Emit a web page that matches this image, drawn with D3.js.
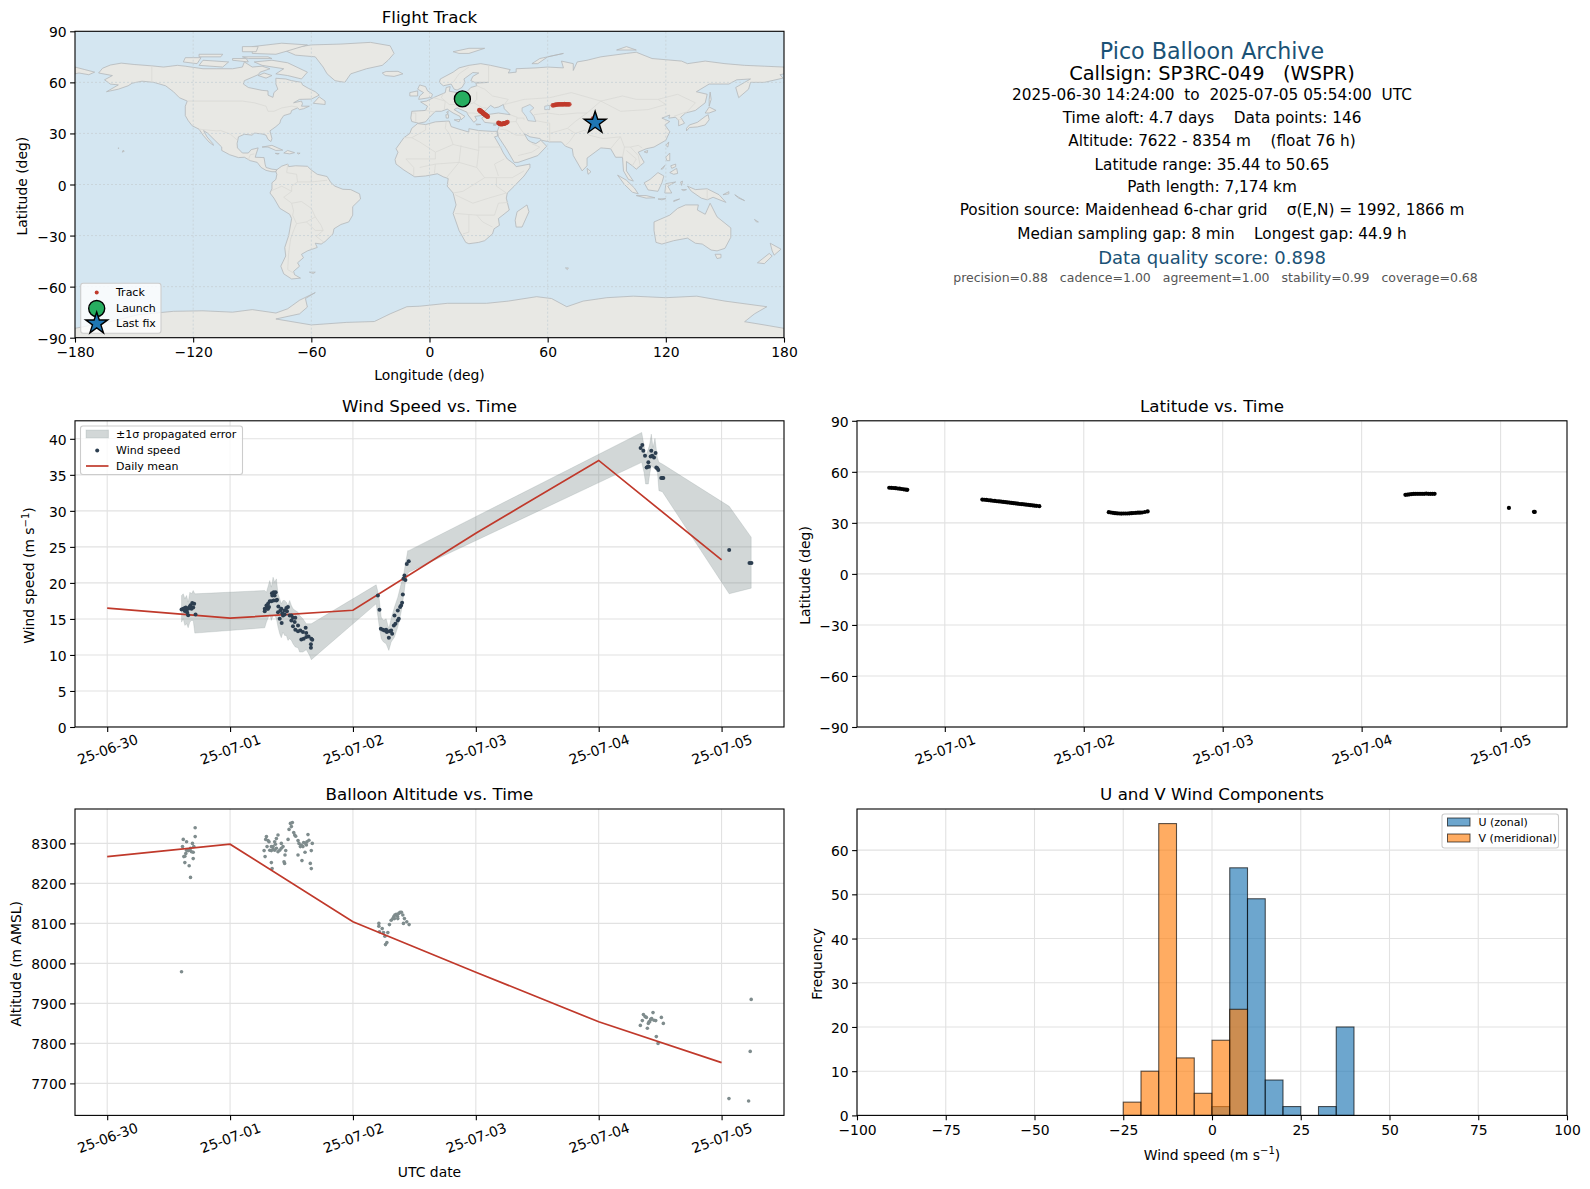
<!DOCTYPE html>
<html>
<head>
<meta charset="utf-8">
<script src="https://cdn.jsdelivr.net/npm/d3@7"></script>
<style>
html, body { margin: 0; background: #fff; }
svg { display: block; }
text { font-family: "DejaVu Sans", sans-serif; fill: #000; white-space: pre; }
</style>
</head>
<body>
<svg id="fig" width="1590" height="1189"></svg>
<script>
// ---- data ----
// days since 2025-06-30 00:00 UTC
var dayTicks = [0, 1, 2, 3, 4, 5];
var meanDay = [0, 1, 2, 3, 4, 5];
var meanSpeed = [16.5, 15.1, 16.2, 26.9, 37.0, 23.2];
var meanAlt = [8267, 8298, 8104, 7978, 7854, 7752];

var windDay = [.605,.619,.632,.646,.632,.651,.659,.667,.678,.692,.708,.700,.686,.659,.719,.640,.673,.627,
  1.282,1.282,1.296,1.309,1.301,1.317,1.323,1.341,1.355,1.371,1.336,1.355,1.377,1.393,1.390,1.409,1.417,1.404,1.420,1.431,1.444,1.458,1.471,1.463,1.485,1.499,1.512,1.531,1.499,1.512,1.531,1.553,1.553,1.572,1.593,1.615,1.620,1.580,1.599,1.620,1.639,1.661,1.669,1.658,1.658,1.382,1.363,1.344,1.309,1.444,1.425,1.526,
  2.203,2.216,2.227,2.243,2.257,2.270,2.276,2.297,2.311,2.292,2.333,2.346,2.338,2.365,2.373,2.365,2.392,2.384,2.400,2.406,2.419,2.427,2.438,2.454,2.411,2.319,
  4.355,4.341,4.363,4.377,4.428,4.463,4.423,4.436,4.450,4.404,4.390,4.409,4.401,4.469,4.477,4.485,4.509,4.526,4.518,
  5.062,5.227,5.243];
var windSpeed = [16.3,16.4,16.5,16.3,16.1,15.9,15.5,16.6,16.9,17.2,17.1,16.6,16.4,16.4,15.6,16.6,16.7,16.3,
  16.4,16.08,16.87,17.1,16.4,16.64,17.47,18.58,18.71,18.71,17.47,17.56,17.56,16.73,15.94,16.17,16.4,15.02,14.42,15.48,15.62,16.5,16.64,16.08,15.48,15.48,15.16,15.16,14.79,14.0,13.5,14.1,13.3,13.4,13.17,13.77,13.03,12.16,12.25,12.48,12.57,12.25,12.11,11.47,11.0,17.65,18.25,18.25,16.4,16.17,15.8,14.56,
  18.25,16.27,13.63,13.5,13.4,13.5,13.17,13.3,13.4,12.39,14.1,14.33,15.48,14.79,15.02,16.17,16.87,16.64,17.24,18.39,21.02,20.42,22.64,23.0,20.56,12.94,
  39.13,38.71,38.34,37.65,38.34,38.02,37.56,37.65,37.42,36.73,36.03,36.13,36.17,36.03,35.9,35.66,34.56,34.56,34.56,
  24.58,22.78,22.78];

var bandDay = [.605,.619,.632,.646,.659,.673,.686,.700,.713,1.282,1.296,1.323,1.336,1.350,1.363,1.377,1.390,1.404,1.417,1.431,1.444,1.458,1.471,1.485,1.499,1.512,1.531,1.553,1.566,1.593,1.620,1.647,1.661,2.189,2.211,2.230,2.249,2.270,2.292,2.311,2.338,2.365,2.392,2.411,2.427,2.446,2.454,4.350,4.369,4.382,4.404,4.415,4.428,4.442,4.458,4.477,4.490,4.518,5.062,5.241];
var bandHigh = [18.25,18.48,17.79,18.25,17.33,18.71,18.48,18.94,18.48,18.94,18.71,20.33,19.41,20.79,20.10,20.56,18.48,17.79,17.1,17.56,17.56,17.33,16.87,17.56,16.87,16.4,16.17,15.94,15.48,15.02,14.33,14.33,14.33,19.73,18.25,15.25,14.79,15.02,13.63,15.02,16.64,18.02,19.87,21.02,22.64,24.48,24.48,40.88,39.03,37.65,38.57,39.27,40.65,38.8,40.05,37.42,36.73,36.5,30.63,26.34];
var bandLow = [14.56,15.02,14.1,14.33,13.77,14.56,14.79,14.79,13.03,13.77,14.56,15.71,14.79,15.48,15.48,15.02,13.87,12.94,12.39,13.17,12.71,12.71,12.02,12.25,12.02,11.56,11.1,11.0,10.4,10.4,10.73,9.94,9.34,17.1,14.33,12.25,11.79,11.56,10.63,11.79,12.48,13.87,15.94,18.02,20.1,21.25,21.48,36.73,35.34,33.73,33.73,35.11,36.26,36.03,35.8,35.57,32.8,32.66,18.49,19.27];

var altDay = [.605,.716,.716,.619,.646,.694,.613,.705,.678,.646,.659,.700,.640,.632,.624,.700,.632,.667,.678,.673,.686,
  1.277,1.285,1.296,1.290,1.309,1.301,1.317,1.323,1.336,1.336,1.342,1.350,1.363,1.369,1.377,1.390,1.363,1.377,1.390,1.404,1.417,1.431,1.444,1.439,1.453,1.447,1.472,1.480,1.491,1.507,1.499,1.518,1.526,1.534,1.553,1.561,1.553,1.572,1.585,1.580,1.599,1.610,1.615,1.626,1.634,1.642,1.653,1.661,1.661,1.669,1.593,1.621,1.336,1.350,1.417,
  2.211,2.211,2.238,2.216,2.249,2.260,2.284,2.276,2.265,2.297,2.311,2.325,2.333,2.341,2.352,2.362,2.373,2.384,2.395,2.406,2.419,2.411,2.438,2.457,2.365,2.338,
  4.339,4.355,4.364,4.377,4.388,4.396,4.404,4.410,4.415,4.423,4.431,4.442,4.450,4.464,4.469,4.483,4.510,4.526,
  5.06,5.22,5.233,5.241];
var altMeters = [7979,8339,8317,8310,8304,8300,8292,8292,8288,8283,8282,8278,8275,8268,8267,8262,8252,8244,8215,8283,8279,
  8282,8267,8317,8310,8307,8292,8304,8283,8282,8252,8237,8292,8304,8298,8312,8321,8283,8288,8279,8283,8300,8292,8250,8254,8282,8271,8310,8335,8350,8352,8342,8327,8321,8318,8307,8300,8271,8292,8257,8296,8302,8278,8300,8304,8322,8308,8250,8237,8282,8300,8292,8296,8292,8285,8288,
  8100,8093,8087,8079,8077,8068,8077,8052,8047,8097,8108,8112,8117,8121,8123,8118,8125,8128,8128,8121,8112,8100,8104,8097,8112,8112,
  7845,7857,7872,7867,7865,7838,7850,7854,7854,7860,7862,7877,7858,7857,7817,7800,7865,7850,
  7662,7656,7780,7910];

var trackDay = [.60,.615,.63,.645,.66,.675,.69,.705,.72,.73,
  1.27,1.285,1.30,1.315,1.33,1.345,1.36,1.375,1.39,1.405,1.42,1.435,1.45,1.465,1.48,1.495,1.51,1.525,1.54,1.555,1.57,1.585,1.60,1.615,1.63,1.645,1.66,1.68,
  2.18,2.195,2.21,2.225,2.24,2.255,2.27,2.285,2.30,2.315,2.33,2.345,2.36,2.375,2.39,2.405,2.42,2.44,2.46,
  4.315,4.33,4.345,4.36,4.375,4.39,4.405,4.42,4.435,4.45,4.465,4.48,4.495,4.51,4.525,
  5.06,5.24,5.246];
var trackLat = [50.65,50.6,50.5,50.4,50.2,50.1,49.9,49.7,49.5,49.4,
  43.7,43.6,43.5,43.3,43.2,43.0,42.9,42.7,42.6,42.5,42.3,42.2,42.0,41.9,41.7,41.6,41.4,41.3,41.1,41.0,40.9,40.7,40.6,40.4,40.3,40.1,40.0,39.8,
  36.3,36.1,35.9,35.7,35.6,35.5,35.44,35.5,35.5,35.5,35.6,35.7,35.8,35.9,36.0,36.0,36.1,36.4,36.7,
  46.5,46.6,46.8,46.9,47,47.1,47.1,47.1,47.1,47.1,47.2,47.1,47.1,47.1,47.1,
  38.8,36.5,36.44];
var trackLon = [16.5,16.8,17.0,17.3,17.6,17.9,18.2,18.5,18.8,19.0,
  25.3,25.5,25.6,25.8,25.9,26.1,26.2,26.4,26.5,26.7,26.9,27.0,27.2,27.3,27.5,27.6,27.8,28.0,28.1,28.3,28.4,28.6,28.7,28.9,29.1,29.2,29.4,29.6,
  35.0,35.2,35.4,35.7,35.9,36.1,36.4,36.6,36.9,37.1,37.3,37.6,37.8,38.0,38.2,38.5,38.8,39.2,39.6,
  62.6,63.2,63.8,64.4,65,65.6,66.2,66.8,67.4,68,68.6,69.2,69.8,70.4,71,
  83.0,84.1,84.15];
var launchPos = [16.7, 50.3];
var lastPos = [84.1, 36.2];

var binEdges = [-25,-20,-15,-10,-5,0,5,10,15,20,25,30,35];
var uCounts = [0,0,0,0,0,2,56,49,8,2,0,2,20];
var vCounts = [3,10,66,13,5,17,24,0,0,0,0,0,0];

var summaryLines = [
  ["Pico Balloon Archive", 22.2, "#1a5276", 51.5, 0],
  ["Callsign: SP3RC-049   (WSPR)", 19.4, "#000", 73.5, 0],
  ["2025-06-30 14:24:00  to  2025-07-05 05:54:00  UTC", 15.3, "#000", 94.5, 0],
  ["Time aloft: 4.7 days    Data points: 146", 15.3, "#000", 117.6, 0],
  ["Altitude: 7622 - 8354 m    (float 76 h)", 15.3, "#000", 141, 0],
  ["Latitude range: 35.44 to 50.65", 15.3, "#000", 164.3, 0],
  ["Path length: 7,174 km", 15.3, "#000", 186.8, 0],
  ["Position source: Maidenhead 6-char grid    \u03c3(E,N) = 1992, 1866 m", 15.3, "#000", 210, 0],
  ["Median sampling gap: 8 min    Longest gap: 44.9 h", 15.3, "#000", 233.2, 0],
  ["Data quality score: 0.898", 18, "#1a5276", 257.6, 0],
  ["precision=0.88   cadence=1.00   agreement=1.00   stability=0.99   coverage=0.68", 12.5, "#555555", 277.8, 3.5]
];

// coastlines, [lon, lat]
var landPolys = [
  // north america
  [[-168,65.5],[-166,68.3],[-162,70.2],[-156.5,71.3],[-150,70.5],[-141,69.7],[-135,69],[-128,70],[-124,69.5],[-115,68],[-108,68],[-100,68],[-95,69],[-94,72],[-90,69],[-85,69.5],[-81,68],[-86,66],[-87,64.5],[-94,61],[-94.5,59],[-92,57],[-85,55.3],[-82,55],[-82,52.5],[-79.5,51.2],[-79,54],[-77,56],[-78,59],[-78,62.4],[-73,62],[-70,61],[-65,60],[-64.5,58.5],[-61.5,56.5],[-58,54.5],[-56,52.5],[-60,50.2],[-66,50],[-69,48],[-65,49],[-64.5,47.5],[-65,46],[-61,46],[-64,44.5],[-66,44],[-67,45],[-70,43.5],[-70.5,41.7],[-74,40.5],[-75.5,38],[-76,36],[-78,34],[-81,31.5],[-80,27],[-80.5,25.2],[-82,26.5],[-83,29],[-85,29.7],[-89,30.2],[-90,29],[-94,29.5],[-97,28],[-97.7,24],[-97.5,21.5],[-95,18.5],[-92,18.5],[-90.5,20.5],[-87,21.5],[-88,18],[-88.5,16],[-84,15.8],[-83.5,12],[-83,10],[-80,9],[-77.5,8.7],[-78,7.5],[-80,7.5],[-83,8.3],[-85.5,10],[-87.5,13],[-91,14],[-94,16],[-97,15.8],[-101.5,17.5],[-105.5,20],[-105.5,22],[-109,26],[-112.5,30],[-114.7,31.7],[-113,28],[-110,24],[-109.7,23],[-112,25],[-115,29],[-117,32.5],[-120.5,34.5],[-122.5,37.5],[-124,40.5],[-124,46],[-123,49],[-127,51],[-130,54.5],[-134,58],[-140,60],[-146,60.7],[-151,59.5],[-153,58],[-158,56],[-164,54.5],[-158,58.5],[-162,59],[-165,61.5],[-161,64],[-168,65.5]],
  // south america
  [[-77.5,8.7],[-75,10.8],[-72,12],[-71.5,10.5],[-68,11],[-62,10.7],[-60,8.5],[-57,6],[-52,4.7],[-50,1],[-48,-1],[-44,-2.8],[-40,-3],[-35.5,-5.5],[-35,-8.5],[-39,-13],[-39,-18],[-41,-22],[-45,-23.5],[-48.5,-26],[-49,-29],[-53,-33.5],[-55,-35],[-58,-34.5],[-57,-37],[-62,-39],[-65,-41],[-64,-43],[-67,-46],[-66,-48],[-69,-51],[-68.5,-53],[-65.5,-55],[-70,-55.5],[-74,-52.5],[-75.5,-48],[-73,-42],[-73.5,-37],[-71.5,-30],[-70,-20],[-71,-17.5],[-76,-14],[-79,-8],[-81,-5],[-80,-2.5],[-80,1],[-78,3],[-77.5,6],[-78,7.5],[-77.5,8.7]],
  // africa
  [[-6,35.8],[-2,35.2],[3,36.8],[10,37.3],[11,34],[15,32.5],[20,30.8],[20,32.8],[25,31.7],[32,31.2],[34.2,31.3],[34.6,28.5],[33,28],[34,26],[36,22],[37.5,18.5],[39.5,15],[43,12],[44,10.5],[51,12],[51,10],[48,5],[43,-1],[39.5,-5],[39,-8],[40.5,-15],[35,-20],[35.5,-24],[32.8,-26],[32,-29],[28,-33],[25,-34],[20,-34.8],[18.4,-34],[15,-27],[12,-17],[13.5,-12],[12,-5],[9,-1],[9.5,3.5],[7,4.5],[4,6.3],[-2,5],[-7.5,4.5],[-13,8.5],[-17,12],[-17.5,14.7],[-16,19],[-17,21],[-13,27.5],[-10,30],[-9,33],[-6,35.8]],
  // eurasia
  [[-9,37],[-9.5,39],[-9,43],[-2,43.5],[-1,46],[-4.5,48.5],[-1.5,49],[2,51],[4,52],[8,54],[8.5,57],[10.5,57.5],[10,54.8],[14,54],[19,54.5],[21,57],[24,58],[23.5,59.5],[30,60],[23,60],[21,61],[22,63.5],[25,65.5],[22,65.8],[17.5,62],[18,60],[16.5,57],[14,55.5],[12.5,56],[11,59],[7,58],[5,60],[5.5,62],[12,66],[15,68.5],[20,70],[26,71],[31,70],[41,67.5],[40,65.5],[44,66],[44,68],[54,68.5],[60,69],[68,68.5],[67,72.5],[73,71],[73,67],[75,72],[80,73],[87,75],[100,77],[105,77.7],[113,74],[128,72.5],[131,71],[140,72.5],[150,71],[160,70],[170,69.5],[180,69],[180,65],[178,64.5],[179.5,62.5],[170,60],[163,60],[162,56],[157,51],[155.5,57],[163,62],[156,61.5],[152,59],[142,59],[135.5,54.5],[141,53],[140,48],[135,43.5],[130,42],[127.5,39.5],[129.5,36],[126.5,34.5],[126.5,37.5],[125,39.5],[121.5,39],[122,40.8],[118,39],[122,37],[119.5,35],[122,31],[120,26],[114,22],[110,21],[106,19],[109,13],[105,9],[103,11],[100,13.5],[100,8],[103.5,2],[101,3],[98.5,8],[98,16],[94.5,16],[92,21],[87,21.5],[80,15.5],[80,11],[77.5,8],[73,17],[72.5,21],[69,22.5],[67,25],[61,25],[57,26],[56,27],[51,28],[48,30],[50,26],[51.5,25],[54,24],[56.5,26],[59.5,22.5],[55,17],[45,13],[43,13],[39,21],[35,28],[34.5,31.5],[36,36],[32,36],[28,36.5],[26.5,39],[29,41],[35,42],[41,41],[38,44.5],[37.5,47],[35,45.5],[33,45],[31,46.5],[28,43],[28.5,41],[26,40.5],[23,40],[24,38],[22.5,36.5],[19.5,41],[19,42.5],[14,45],[12.5,44],[16,41.5],[18,40],[16,38],[15.5,40],[12,42],[9,44.3],[6,43],[3,43],[0,39.5],[-2,36.8],[-5.5,36],[-9,37]],
  // chukotka tip on the far left
  [[-180,69],[-175,67.5],[-170,66],[-173,64.5],[-178,65.5],[-180,65],[-180,69]],
  // greenland, iceland, british isles
  [[-73,78.5],[-68,80.5],[-60,82],[-45,82.5],[-30,83.5],[-20,81.5],[-18,77],[-21,73],[-24,70],[-32,68],[-40,65],[-43,60],[-48,61],[-52,65],[-54,69],[-58,75],[-68,76],[-73,78.5]],
  [[-24,65.5],[-22,66.4],[-16,66.5],[-13.5,65],[-18,63.5],[-22.5,64],[-24,65.5]],
  [[-5.5,50],[1,51.2],[1.5,53],[-1,55],[-2,57.5],[-5,58.5],[-6,56],[-3,54],[-5,52],[-5.5,50]],
  [[-10,52],[-6,52],[-6,55],[-10,54],[-10,52]],
  // arctic
  [[12,78],[20,80],[28,80],[20,77],[15,77],[12,78]],
  [[52,71],[56,74],[68,77],[60,75],[55,71],[52,71]],
  [[95,79],[105,79],[100,81],[95,79]],
  [[-80,73],[-72,71.5],[-62,66],[-65,62],[-72,64],[-78,65],[-74,68],[-85,70],[-89,72],[-80,73]],
  [[-117,70],[-105,69],[-102,72],[-115,73],[-117,70]],
  [[-125,72],[-118,71],[-116,74.5],[-124,74.5],[-125,72]],
  [[-90,77],[-78,76.5],[-72,78.5],[-62,82],[-75,83],[-90,81],[-90,77]],
  [[-95,75],[-82,75],[-80,74],[-92,74],[-95,75]],
  [[-100,73],[-92,72],[-93,74],[-100,74],[-100,73]],
  [[-117,75],[-106,75],[-105,76.5],[-117,76.5],[-117,75]],
  [[-95,78],[-88,78],[-87,81],[-95,81],[-95,78]],
  [[-84,65.5],[-80,64],[-83,62.5],[-87,64],[-84,65.5]],
  // newfoundland, caribbean, hawaii
  [[-59,47.7],[-53,47],[-53,49],[-56,51.5],[-59,47.7]],
  [[-85,22],[-80,23],[-74.5,20.2],[-78,20],[-82,22],[-85,22]],
  [[-74,18.5],[-72,20],[-68.5,18.7],[-71,18],[-74,18.5]],
  [[-78.3,18.3],[-76.3,18.2],[-77,17.8],[-78.3,18.3]],
  [[-67.2,18.5],[-65.7,18.4],[-66.5,17.9],[-67.2,18.5]],
  [[-156,19],[-155,19.5],[-155.5,20.2],[-156,19]],
  [[-158.2,21.3],[-157.7,21.5],[-157.8,21.2],[-158.2,21.3]],
  [[-61,-51.5],[-58,-51.5],[-59,-52.3],[-61,-51.5]],
  // mediterranean
  [[12.5,38],[15.5,38.2],[15,36.8],[12.5,38]],
  [[8.3,41],[9.7,41],[9.6,39],[8.5,39],[8.3,41]],
  [[8.7,42.5],[9.5,43],[9.3,41.5],[8.7,42.5]],
  [[23.5,35.5],[26,35.3],[24,35],[23.5,35.5]],
  [[32.3,35],[34.5,35.6],[33.5,34.7],[32.3,35]],
  // east and south-east asia
  [[130.5,33],[132,35],[136,36.5],[140,40],[141.5,41],[142,38],[140,35],[136,33.8],[132,33.5],[130.5,31.5],[130.5,33]],
  [[140,42],[142,45.5],[145.5,43.5],[142,42],[140,42]],
  [[142,46],[143,50],[142.5,54.3],[142,50],[142,46]],
  [[120,23],[121.5,25],[121,22],[120,23]],
  [[109,19.2],[110.8,20],[110.5,18.5],[109,19.2]],
  [[120,16],[122,18.5],[122,14],[120.5,14],[120,16]],
  [[122,7],[125.5,9.5],[126,6.5],[124,6],[122,7]],
  [[122.5,11],[125,12],[125,10.5],[123,9.5],[122.5,11]],
  [[117.5,9],[119.5,11.2],[118.5,9.2],[117.5,9]],
  [[95.5,5.5],[100,2.5],[104,-2],[106,-5.5],[103,-4.5],[99,0],[95.5,5.5]],
  [[105,-6.5],[110,-6.5],[114.5,-7.8],[110,-8],[105,-6.5]],
  [[109,1],[112,3],[116,7],[119,5],[118,1],[116,-4],[111,-3.2],[109,1]],
  [[119.5,-5],[120,0.5],[125,1.5],[121,-1],[123,-5],[119.5,-5]],
  [[131,-1],[135,-3],[141,-2.5],[147,-6],[150.5,-10.5],[144,-7.5],[141,-9],[138,-8],[133,-4],[131,-1]],
  [[124,-9.5],[127,-8.5],[124,-10],[124,-9.5]],
  [[116,-8.5],[120,-8.3],[118,-9],[116,-8.5]],
  [[127.5,1.5],[128.5,2],[128,-0.5],[127.5,1.5]],
  [[128,-3],[130.5,-3],[129,-3.6],[128,-3]],
  [[149,-6],[152,-4.2],[152,-5.5],[149,-6]],
  [[155,-6],[157,-7.5],[160,-9.5],[157,-8],[155,-6]],
  [[80,9.5],[82,7.5],[80.5,6],[80,9.5]],
  [[49.5,-12],[50.5,-16],[47,-25],[44,-25],[43.5,-21],[44.5,-16],[49.5,-12]],
  // australia and new zealand
  [[114,-22],[122,-18],[126,-14],[130,-12],[136.5,-12],[136,-15],[140,-17.5],[142.5,-11],[146,-19],[153,-25.5],[153,-31],[150,-37.5],[146,-39],[143,-38.5],[138.5,-35],[135,-34.5],[131,-31.5],[124,-33],[118,-35],[115,-34],[114,-27],[114,-22]],
  [[145,-41],[148,-41],[148,-43],[146,-43.5],[145,-41]],
  [[173,-34.5],[178.5,-38],[175,-41.5],[174,-39],[173,-34.5]],
  [[172.5,-40.5],[174,-42],[170,-46.5],[166.5,-46],[172.5,-40.5]],
  [[165,-20.5],[167,-22],[166,-22],[165,-20.5]],
  [[69,-49],[70.5,-49],[70,-50],[69,-49]],
  // antarctica
  [[-180,-84.5],[-160,-80],[-148,-76.5],[-130,-74.5],[-115,-74.2],[-100,-75],[-90,-73.5],[-78,-75.5],[-72,-73],[-66,-68],[-58,-63.5],[-63,-67],[-62,-72],[-66,-76],[-78,-79],[-60,-82.5],[-42,-81],[-28,-80.5],[-20,-76],[-11.5,-71.8],[-5,-71.5],[9,-69.8],[29,-69.8],[40,-68.5],[54.4,-65.9],[62,-67],[69.7,-71.8],[78,-68.5],[90,-66.5],[103.5,-65.6],[120,-66.5],[135.7,-65.6],[150,-68.5],[171.3,-71.8],[165,-76],[160,-80.6],[170,-82.5],[180,-84.5],[180,-90],[-180,-90],[-180,-84.5]]
];
var inlandSeas = [
  [[47,45],[51,47],[53,45],[51,43],[53,40],[54,37],[50,37.5],[49,40],[47,43],[47,45]],
  [[58.5,46],[61,46.5],[61,44],[58.5,44],[58.5,46]]
];
var borderLines = [
  [[-123,49],[-95,49],[-89,48],[-83,46],[-82,43],[-79,43],[-75,45],[-70,46],[-67,45.5]],
  [[-141,69.7],[-141,60]],
  [[-117,32.5],[-108,31.5],[-106,31.7],[-101,29.5],[-97.5,26]],
  [[-92,14.5],[-91,17.5],[-89,18]],
  [[-72,12],[-72.5,7],[-67.5,6],[-67,1.5],[-70,-1],[-70,-4],[-74,-7.5],[-70,-11],[-69,-15.5],[-69.5,-18],[-67.5,-23],[-69,-27],[-70.5,-32],[-71.5,-40],[-72,-50],[-69,-52]],
  [[-60,8],[-60,1.5],[-67,1.5]],
  [[-52,2.5],[-60,1.5]],
  [[-70,-11],[-65,-10],[-60,-14],[-58,-19],[-55,-24],[-54,-27],[-57.5,-30.5],[-53.5,-34]],
  [[-58,-19],[-62.5,-22],[-67.5,-23]],
  [[-80,-3.5],[-75,-1],[-70,-4]],
  [[-62.5,-22],[-58,-27],[-54,-27]],
  [[-9,27.5],[-2,32],[-2,35]],
  [[-13,27.5],[-9,27.5],[-5,25],[3,19],[12,23.5],[10,30],[8,33],[8.5,37]],
  [[12,23.5],[25,20],[25,31.7]],
  [[25,22],[37,22]],
  [[25,20],[24,10],[28,4],[34,4],[42,4],[48,8]],
  [[16,23],[15,13],[9,4.5]],
  [[3,12],[15,13],[24,10]],
  [[-12,15],[3,15],[3,19]],
  [[-5,10],[3,12],[2.5,6.5]],
  [[-8,5],[-8,10],[-12,15]],
  [[12,-5],[17,-4],[28,4]],
  [[13,-17],[24,-18],[33,-18],[35,-11],[40,-10.5]],
  [[13,-6],[22,-11],[30,-8],[39,-5],[34,-1],[34,4]],
  [[20,-18],[20,-28],[17,-29]],
  [[24,-18],[27,-22],[32,-25]],
  [[38,15],[33,12],[35,5]],
  [[-2,43.5],[3,42.5]],
  [[-7,37],[-7,42],[-9,42]],
  [[2,51],[8,49],[7.5,44]],
  [[7,53.5],[6,51],[8,49],[10,47],[13,47],[14,51],[14,54]],
  [[24,54.5],[24,50],[22.5,48],[27,45],[29,45]],
  [[13,47],[17,46],[22.5,48]],
  [[24,58],[28,56],[32,52],[40,50],[38,47]],
  [[19,42],[22,42],[26,41.5]],
  [[30,60],[30,70]],
  [[12,60],[15,65],[20,69]],
  [[26,41.5],[28,42]],
  [[36,36.5],[44,37],[44.5,39.5],[41,41]],
  [[44,37],[46,33],[48,30]],
  [[36,32.5],[39,32],[44,29],[48,29]],
  [[52,24],[56,22],[52,19],[45,17]],
  [[44.5,39],[48,39],[48,38]],
  [[54,37.5],[61,36],[61,30],[61,25]],
  [[61,30],[70,33],[74,37]],
  [[70,33],[74,30],[71,25],[69,23]],
  [[74,30],[79,32],[81,29],[88,27],[97,28],[94,24],[92,21]],
  [[74,37],[80,42],[87,49],[97,43],[111,44],[120,47],[116,50],[126,53],[135,48],[131,43],[130,42]],
  [[38,47],[48,50],[61,51],[72,54],[87,49],[98,52],[105,50],[116,50]],
  [[53,41],[60,42],[66,41],[75,42],[80,42]],
  [[97,28],[99,22],[102,22],[106,23],[108,21.5]],
  [[99,22],[98,16]],
  [[102,22],[106,17],[107,11]],
  [[100,20],[105,15],[103,11]],
  [[124,40],[130,42.5]],
  [[125.5,38],[128.5,38.5]],
  [[141,-2.5],[141,-9]]
];

// ---- layout ----
var col1 = [75, 784], col2 = [857, 1567];
var row1 = [337.7, 31.3], row2 = [727, 420.8], row3 = [1115.4, 809];
var gridColor = "#e2e2e2", red = "#c0392b", navy = "#2c3e50", slate = "#7f8c8d";
var t0 = Date.UTC(2025, 5, 30);
function toDate(d) { return new Date(t0 + d * 864e5); }
var fmtDay = d3.utcFormat("%y-%m-%d");

var svg = d3.select("#fig");

function clipFor(id, xr, yr) {
  svg.append("clipPath").attr("id", id).append("rect")
    .attr("x", xr[0]).attr("y", yr[1]).attr("width", xr[1] - xr[0]).attr("height", yr[0] - yr[1]);
}

function grid(g, x, y, xt, yt, xr, yr, dash, color, w) {
  g.selectAll(".gx").data(xt).enter().append("line")
    .attr("x1", d => x(d)).attr("x2", d => x(d)).attr("y1", yr[0]).attr("y2", yr[1])
    .attr("stroke", color || gridColor).attr("stroke-width", w || 1.1).attr("stroke-dasharray", dash || null);
  g.selectAll(".gy").data(yt).enter().append("line")
    .attr("x1", xr[0]).attr("x2", xr[1]).attr("y1", d => y(d)).attr("y2", d => y(d))
    .attr("stroke", color || gridColor).attr("stroke-width", w || 1.1).attr("stroke-dasharray", dash || null);
}

// spines, ticks and titles go on last so they sit above the marks
function frame(x, y, xt, yt, xr, yr, xf, rotate) {
  var gx = svg.append("g").attr("transform", "translate(0," + yr[0] + ")")
    .call(d3.axisBottom(x).tickValues(xt).tickFormat(xf).tickSize(4.9).tickPadding(4.5));
  var gy = svg.append("g").attr("transform", "translate(" + xr[0] + ",0)")
    .call(d3.axisLeft(y).tickValues(yt).tickFormat(d3.format("d")).tickSize(4.9).tickPadding(3.5));
  [gx, gy].forEach(a => {
    a.attr("font-family", "DejaVu Sans").attr("font-size", 13.9);
    a.selectAll("line").attr("stroke", "#000").attr("stroke-width", 1.1);
  });
  gx.select(".domain").remove();
  gy.select(".domain").remove();
  gy.selectAll(".tick text").attr("dy", "0.4em");
  if (rotate) {
    gx.selectAll(".tick text").attr("y", 0).attr("dy", "0.35em")
      .attr("transform", "translate(0,22.5) rotate(-20)");
  }
  svg.append("rect").attr("x", xr[0]).attr("y", yr[1])
    .attr("width", xr[1] - xr[0]).attr("height", yr[0] - yr[1])
    .attr("fill", "none").attr("stroke", "#000").attr("stroke-width", 1.1);
}

function title(t, xr, yr) {
  svg.append("text").attr("x", (xr[0] + xr[1]) / 2).attr("y", yr[1] - 8.8)
    .attr("text-anchor", "middle").attr("font-size", 16.7).text(t);
}
function ylabel(t, px, yr) {
  var lab = svg.append("text").attr("transform", "translate(" + px + "," + ((yr[0] + yr[1]) / 2 + 1.6) + ") rotate(-90)")
    .attr("text-anchor", "middle").attr("dy", "0.35em").attr("font-size", 13.9);
  addUnits(lab, t);
}
function xlabel(t, px, py) {
  var lab = svg.append("text").attr("x", px).attr("y", py)
    .attr("text-anchor", "middle").attr("dy", "0.35em").attr("font-size", 13.9);
  addUnits(lab, t);
}
// "m s-1" needs a real superscript
function addUnits(lab, t) {
  if (t.indexOf("^") < 0) { lab.text(t); return; }
  var p = t.split("^");
  lab.append("tspan").text(p[0]);
  lab.append("tspan").attr("font-size", 10).attr("dy", "-0.55em").text("\u22121");
  lab.append("tspan").attr("dy", "0.38em").text(p[1]);
}

function legendBox(x0, y0, w, h) {
  var g = svg.append("g");
  g.append("rect").attr("x", x0).attr("y", y0).attr("width", w).attr("height", h).attr("rx", 2.5)
    .attr("fill", "#fff").attr("fill-opacity", 0.8).attr("stroke", "#ccc").attr("stroke-width", 1.1);
  return g;
}
function legendText(g, x0, y0, t) {
  g.append("text").attr("x", x0).attr("y", y0).attr("dy", "0.35em").attr("font-size", 11).text(t);
}

// ---- flight track map ----
var lonScale = d3.scaleLinear().domain([-180, 180]).range(col1);
var latScale = d3.scaleLinear().domain([-90, 90]).range(row1);
clipFor("mapClip", col1, row1);
var mapG = svg.append("g").attr("clip-path", "url(#mapClip)");
mapG.append("rect").attr("x", col1[0]).attr("y", row1[1]).attr("width", col1[1] - col1[0]).attr("height", row1[0] - row1[1])
  .attr("fill", "#d4e6f1");
var geoLine = d3.line().x(d => lonScale(d[0])).y(d => latScale(d[1]));
mapG.selectAll(".land").data(landPolys).enter().append("path")
  .attr("d", d => geoLine(d) + "Z")
  .attr("fill", "#e8e8e4").attr("stroke", "#b4b8ba").attr("stroke-width", 0.8);
mapG.selectAll(".sea").data(inlandSeas).enter().append("path")
  .attr("d", d => geoLine(d) + "Z")
  .attr("fill", "#d4e6f1").attr("stroke", "#b4b8ba").attr("stroke-width", 0.7);
mapG.selectAll(".border").data(borderLines).enter().append("path")
  .attr("d", geoLine).attr("fill", "none").attr("stroke", "#d9d9d6").attr("stroke-width", 0.8);
grid(mapG, lonScale, latScale, [-120, -60, 0, 60, 120], [-60, -30, 0, 30, 60], col1, row1, "2,2", "#c6d0d5", 0.8);
mapG.selectAll(".trk").data(trackDay).enter().append("circle")
  .attr("cx", (d, i) => lonScale(trackLon[i])).attr("cy", (d, i) => latScale(trackLat[i]))
  .attr("r", 2.3).attr("fill", red).attr("fill-opacity", 0.85);
mapG.append("circle").attr("cx", lonScale(launchPos[0])).attr("cy", latScale(launchPos[1])).attr("r", 8)
  .attr("fill", "#27ae60").attr("stroke", "#000").attr("stroke-width", 1.4);
var starPath = d3.symbol().type(d3.symbolStar).size(150)();
mapG.append("path").attr("d", starPath)
  .attr("transform", "translate(" + lonScale(lastPos[0]) + "," + latScale(lastPos[1]) + ")")
  .attr("fill", "#1f77b4").attr("stroke", "#000").attr("stroke-width", 1.4);

var mapLeg = legendBox(80.7, 283.3, 80.3, 50);
mapLeg.append("circle").attr("cx", 96.7).attr("cy", 292.5).attr("r", 2).attr("fill", red);
mapLeg.append("circle").attr("cx", 96.7).attr("cy", 308.5).attr("r", 8).attr("fill", "#27ae60").attr("stroke", "#000").attr("stroke-width", 1.4);
mapLeg.append("path").attr("d", starPath).attr("transform", "translate(96.7,323.5)").attr("fill", "#1f77b4").attr("stroke", "#000").attr("stroke-width", 1.4);
legendText(mapLeg, 116, 292.5, "Track");
legendText(mapLeg, 116, 308, "Launch");
legendText(mapLeg, 116, 323, "Last fix");

frame(lonScale, latScale, d3.range(-180, 181, 60), d3.range(-90, 91, 30), col1, row1, d3.format("d"), false);
title("Flight Track", col1, row1);
ylabel("Latitude (deg)", 22.3, row1);
xlabel("Longitude (deg)", 429.5, 375);

// ---- summary text ----
svg.selectAll(".sum").data(summaryLines).enter().append("text")
  .attr("x", d => (col2[0] + col2[1]) / 2 + d[4]).attr("y", d => d[3]).attr("dy", "0.35em")
  .attr("text-anchor", "middle").attr("font-size", d => d[1]).style("fill", d => d[2]).text(d => d[0]);

// ---- wind speed ----
var xWind = d3.scaleUtc().domain([toDate(-0.262), toDate(5.508)]).range(col1);
var yWind = d3.scaleLinear().domain([0, 42.5]).range(row2);
var speedTicks = d3.range(0, 41, 5);
clipFor("windClip", col1, row2);
var windG = svg.append("g").attr("clip-path", "url(#windClip)");
grid(windG, xWind, yWind, dayTicks.map(toDate), speedTicks, col1, row2);
var band = d3.area().x(d => xWind(toDate(d))).y0((d, i) => yWind(bandLow[i])).y1((d, i) => yWind(bandHigh[i]));
windG.append("path").attr("d", band(bandDay))
  .attr("fill", slate).attr("fill-opacity", 0.35).attr("stroke", slate).attr("stroke-opacity", 0.2).attr("stroke-width", 1);
var meanLine = d3.line().x(d => xWind(toDate(d)));
windG.append("path").attr("d", meanLine.y((d, i) => yWind(meanSpeed[i]))(meanDay))
  .attr("fill", "none").attr("stroke", red).attr("stroke-width", 1.7);
windG.selectAll(".pt").data(windDay).enter().append("circle")
  .attr("cx", d => xWind(toDate(d))).attr("cy", (d, i) => yWind(windSpeed[i]))
  .attr("r", 2).attr("fill", navy);

var windLeg = legendBox(80.5, 426, 162, 48.5);
windLeg.append("rect").attr("x", 86).attr("y", 430).attr("width", 22.5).attr("height", 8).attr("fill", slate).attr("fill-opacity", 0.35).attr("stroke", slate).attr("stroke-opacity", 0.2);
windLeg.append("circle").attr("cx", 97.2).attr("cy", 450.5).attr("r", 2).attr("fill", navy);
windLeg.append("line").attr("x1", 86).attr("x2", 108.5).attr("y1", 466).attr("y2", 466).attr("stroke", red).attr("stroke-width", 1.7);
legendText(windLeg, 116, 434.5, "\u00b11\u03c3 propagated error");
legendText(windLeg, 116, 450.5, "Wind speed");
legendText(windLeg, 116, 466, "Daily mean");

frame(xWind, yWind, dayTicks.map(toDate), speedTicks, col1, row2, fmtDay, true);
title("Wind Speed vs. Time", col1, row2);
ylabel("Wind speed (m s^)", 29.5, row2);

// ---- latitude ----
var xLat = d3.scaleUtc().domain([toDate(0.368), toDate(5.478)]).range(col2);
var yLat = d3.scaleLinear().domain([-90, 90]).range(row2);
var latTicks = d3.range(-90, 91, 30);
var latDays = dayTicks.slice(1);
grid(svg.append("g"), xLat, yLat, latDays.map(toDate), latTicks, col2, row2);
svg.append("g").selectAll("circle").data(trackDay).enter().append("circle")
  .attr("cx", d => xLat(toDate(d))).attr("cy", (d, i) => yLat(trackLat[i]))
  .attr("r", 2.1).attr("fill", "#000");
frame(xLat, yLat, latDays.map(toDate), latTicks, col2, row2, fmtDay, true);
title("Latitude vs. Time", col2, row2);
ylabel("Latitude (deg)", 805, row2);

// ---- altitude ----
var xAlt = xWind;
var yAlt = d3.scaleLinear().domain([7620, 8386]).range(row3);
var altTicks = d3.range(7700, 8301, 100);
clipFor("altClip", col1, row3);
var altG = svg.append("g").attr("clip-path", "url(#altClip)");
grid(altG, xAlt, yAlt, dayTicks.map(toDate), altTicks, col1, row3);
altG.selectAll(".pt").data(altDay).enter().append("circle")
  .attr("cx", d => xAlt(toDate(d))).attr("cy", (d, i) => yAlt(altMeters[i]))
  .attr("r", 1.8).attr("fill", slate);
altG.append("path").attr("d", d3.line().x(d => xAlt(toDate(d))).y((d, i) => yAlt(meanAlt[i]))(meanDay))
  .attr("fill", "none").attr("stroke", red).attr("stroke-width", 1.7);
frame(xAlt, yAlt, dayTicks.map(toDate), altTicks, col1, row3, fmtDay, true);
title("Balloon Altitude vs. Time", col1, row3);
ylabel("Altitude (m AMSL)", 16.2, row3);
xlabel("UTC date", 429.5, 1172);

// ---- histogram ----
var xHist = d3.scaleLinear().domain([-100, 100]).range(col2);
var yHist = d3.scaleLinear().domain([0, 69.3]).range(row3);
var histXT = d3.range(-100, 101, 25), histYT = d3.range(0, 61, 10);
grid(svg.append("g"), xHist, yHist, histXT, histYT, col2, row3);
function bars(counts, color) {
  // counts repeat (2 shows up twice in U), so keep the bin edge with each count
  svg.append("g").selectAll("rect").data(counts.map((c, i) => [binEdges[i], c]).filter(d => d[1] > 0)).enter().append("rect")
    .attr("x", d => xHist(d[0])).attr("y", d => yHist(d[1]))
    .attr("width", xHist(5) - xHist(0)).attr("height", d => yHist(0) - yHist(d[1]))
    .attr("fill", color).attr("fill-opacity", 0.65).attr("stroke", "#000").attr("stroke-opacity", 0.65).attr("stroke-width", 1.1);
}
bars(uCounts, "#1f77b4");
bars(vCounts, "#ff7f0e");

var histLeg = legendBox(1442, 814, 116.5, 34);
histLeg.append("rect").attr("x", 1447.5).attr("y", 818).attr("width", 22.5).attr("height", 8).attr("fill", "#1f77b4").attr("fill-opacity", 0.65).attr("stroke", "#000").attr("stroke-opacity", 0.65);
histLeg.append("rect").attr("x", 1447.5).attr("y", 834).attr("width", 22.5).attr("height", 8).attr("fill", "#ff7f0e").attr("fill-opacity", 0.65).attr("stroke", "#000").attr("stroke-opacity", 0.65);
legendText(histLeg, 1478.5, 822.5, "U (zonal)");
legendText(histLeg, 1478.5, 838.5, "V (meridional)");

frame(xHist, yHist, histXT, histYT, col2, row3, d3.format("d"), false);
title("U and V Wind Components", col2, row3);
ylabel("Frequency", 817, row3);
xlabel("Wind speed (m s^)", 1212, 1155);
</script>
</body>
</html>
